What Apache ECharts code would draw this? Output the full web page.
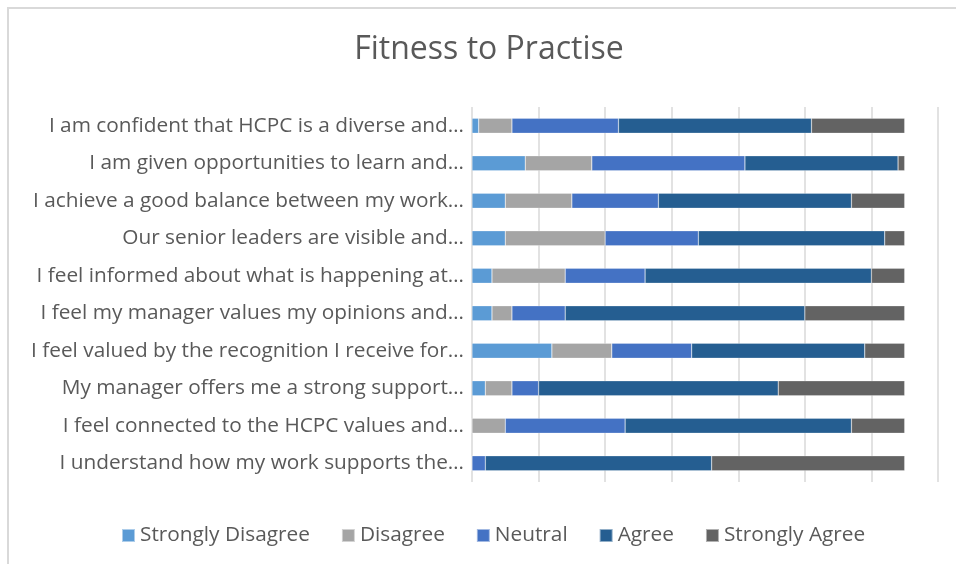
<!DOCTYPE html>
<html>
<head>
<meta charset="utf-8">
<script src="https://cdn.jsdelivr.net/npm/echarts@6/dist/echarts.min.js"></script>
<style>
  html, body { margin: 0; padding: 0; background: #fff; }
  #chart { width: 956px; height: 564px; }
</style>
</head>
<body>
<div id="chart"></div>
<script>
  // survey statements, top to bottom
  var categories = [
    'I am confident that HCPC is a diverse and…',
    'I am given opportunities to learn and…',
    'I achieve a good balance between my work…',
    'Our senior leaders are visible and…',
    'I feel informed about what is happening at…',
    'I feel my manager values my opinions and…',
    'I feel valued by the recognition I receive for…',
    'My manager offers me a strong support…',
    'I feel connected to the HCPC values and…',
    'I understand how my work supports the…'
  ];
  // respondent counts (65 per statement)
  var stronglyDisagree = [1, 8, 5, 5, 3, 3, 12, 2, 0, 0];
  var disagree         = [5, 10, 10, 15, 11, 3, 9, 4, 5, 0];
  var neutral          = [16, 23, 13, 14, 12, 8, 12, 4, 18, 2];
  var agree            = [29, 23, 29, 28, 34, 36, 26, 36, 34, 34];
  var stronglyAgree    = [14, 1, 8, 3, 5, 15, 6, 19, 8, 29];

  var names = ['Strongly Disagree', 'Disagree', 'Neutral', 'Agree', 'Strongly Agree'];
  var values = [stronglyDisagree, disagree, neutral, agree, stronglyAgree];
  var colors = ['#5B9BD5', '#A5A5A5', '#4472C4', '#255E91', '#636363'];

  var font = '"Open Sans", "Noto Sans", sans-serif';
  var chart = echarts.init(document.getElementById('chart'));

  var series = [];
  for (var i = 0; i < names.length; i++) {
    series.push({
      name: names[i],
      type: 'bar',
      stack: 'total',
      barWidth: '40%',
      itemStyle: { color: colors[i], borderColor: 'rgba(255,255,255,0.5)', borderWidth: 0.5 },
      data: values[i]
    });
  }

  chart.setOption({
    animation: false,
    color: colors,
    textStyle: { fontFamily: font },
    title: {
      text: 'Fitness to Practise',
      left: 484,
      textAlign: 'center',
      top: 29,
      textStyle: { fontFamily: font, fontSize: 32, fontWeight: 'normal', color: '#595959' }
    },
    graphic: [{
      type: 'rect',
      shape: { x: 8, y: 8, width: 1000, height: 1000 },
      style: { fill: 'none', stroke: '#d9d9d9', lineWidth: 2 },
      silent: true
    }],
    legend: {
      data: names,
      bottom: 13,
      left: 116,
      icon: 'rect',
      itemWidth: 13,
      itemHeight: 13,
      itemGap: 31,
      textStyle: { fontFamily: font, fontSize: 20.8, color: '#595959' }
    },
    grid: { left: 472, right: 18, top: 107, bottom: 82, containLabel: false },
    xAxis: {
      type: 'value',
      min: 0,
      max: 70,
      interval: 10,
      axisLabel: { show: false },
      axisLine: { show: false },
      axisTick: { show: false },
      splitLine: { lineStyle: { color: '#d9d9d9', width: 1.5 } }
    },
    yAxis: {
      type: 'category',
      inverse: true,
      data: categories,
      axisLine: { show: false },
      axisTick: { show: false },
      axisLabel: { color: '#595959', fontSize: 20.8, margin: 8, fontFamily: font }
    },
    series: series
  });
</script>
</body>
</html>
